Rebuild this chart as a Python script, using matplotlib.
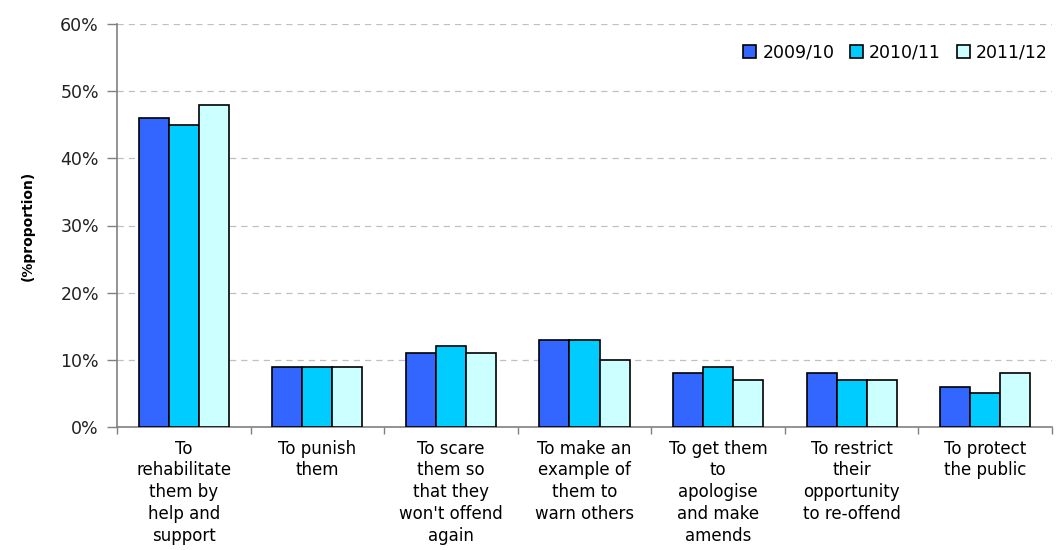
import matplotlib
matplotlib.use("Agg")
import matplotlib.pyplot as plt
import numpy as np
from matplotlib.ticker import FuncFormatter, FixedLocator

categories = [
    "To\nrehabilitate\nthem by\nhelp and\nsupport",
    "To punish\nthem",
    "To scare\nthem so\nthat they\nwon't offend\nagain",
    "To make an\nexample of\nthem to\nwarn others",
    "To get them\nto\napologise\nand make\namends",
    "To restrict\ntheir\nopportunity\nto re-offend",
    "To protect\nthe public",
]
series_names = ["2009/10", "2010/11", "2011/12"]
v2009 = [46, 9, 11, 13, 8, 8, 6]
v2010 = [45, 9, 12, 13, 9, 7, 5]
v2011 = [48, 9, 11, 10, 7, 7, 8]
colors = ["#3366FF", "#00CCFF", "#CCFFFF"]

plt.rcParams['font.family'] = ['DejaVu Sans']

fig = plt.figure(figsize=(10.59, 5.5), dpi=100)
ax = fig.add_axes([0.1105, 0.2236, 0.9934 - 0.1105, 0.9564 - 0.2236])

x = np.arange(len(categories))
w = 0.225
for i, (vals, name, c) in enumerate(zip([v2009, v2010, v2011], series_names, colors)):
    ax.bar(x + (i - 1) * w, vals, width=w, color=c, edgecolor="black",
           linewidth=1.2, label=name, zorder=3)

ax.set_xlim(-0.5, len(categories) - 0.5)
ax.set_ylim(0, 60)
ax.set_yticks(np.arange(0, 61, 10))
ax.yaxis.set_major_formatter(FuncFormatter(lambda v, p: f"{int(v)}%"))
ax.grid(axis="y", color="#C0C0C0", linestyle=(0, (5, 4)), linewidth=0.9, zorder=0)

ax.set_xticks(x)
ax.set_xticklabels(categories, fontsize=12, linespacing=1.28, va="top")
ax.tick_params(axis="x", which="major", length=0, pad=9)
ax.xaxis.set_minor_locator(FixedLocator(np.arange(-0.5, len(categories), 1.0)))
ax.tick_params(axis="x", which="minor", length=5, color="#808080", width=1)
ax.tick_params(axis="y", length=7, color="#808080", width=1, pad=6, labelsize=12.5,
               labelcolor="#222222")

for s in ["top", "right"]:
    ax.spines[s].set_visible(False)
for s in ["left", "bottom"]:
    ax.spines[s].set_color("#808080")
    ax.spines[s].set_linewidth(1.2)

ax.set_ylabel("(%proportion)", fontsize=10, fontweight="bold", labelpad=18)

leg = ax.legend(loc="upper right", bbox_to_anchor=(1.012, 0.99), ncol=3, frameon=False,
                fontsize=12.5, handlelength=0.75, handleheight=0.75, handletextpad=0.35,
                columnspacing=0.9)

fig.savefig("out.png", dpi=100)
